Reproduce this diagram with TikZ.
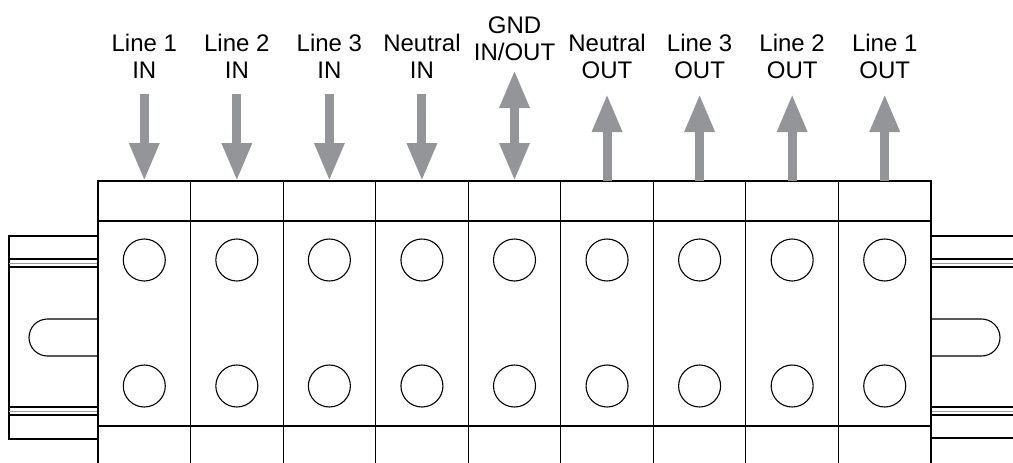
\documentclass[tikz,border=0pt]{standalone}
\usepackage{fontspec}
\setmainfont{Liberation Sans}
\usetikzlibrary{arrows.meta}
\definecolor{arrowgray}{HTML}{939598}
\definecolor{railgray}{HTML}{9A9A9A}

\begin{document}
\begin{tikzpicture}[x=1pt,y=-1pt,line width=1.1pt,
  lbl/.style={align=center,inner sep=0pt,font=\fontsize{24}{27}\selectfont},
  flow/.style={draw=arrowgray,line width=9pt,-{Triangle[width=28pt,length=38pt]}},
  both/.style={draw=arrowgray,line width=9pt,{Triangle[width=28pt,length=38pt]}-{Triangle[width=28pt,length=38pt]}},
  hole/.style={draw,circle,minimum size=42pt,inner sep=0pt}]
\useasboundingbox (0,0) rectangle (1013,463);
\draw (98,236) -- (9,236) -- (9,439) -- (98,439);
\draw (9,259) -- (98,259) (9,267) -- (98,267) (9,407) -- (98,407) (9,415) -- (98,415);
\draw[railgray,line width=0.8pt] (9,263) -- (98,263) (9,411) -- (98,411);
\draw (98,319) -- (47.5,319) arc[start angle=270,end angle=90,radius=18.5] -- (98,356);
\draw (1013,236) -- (931,236) (931,438) -- (1013,438);
\draw (931,259) -- (1013,259) (931,267) -- (1013,267) (931,407) -- (1013,407) (931,415) -- (1013,415);
\draw[railgray,line width=0.8pt] (931,263) -- (1013,263) (931,411) -- (1013,411);
\draw (931,319) -- (981.5,319) arc[start angle=-90,end angle=90,radius=18.5] -- (931,356);
\draw (98,463) -- (98,181) -- (931,181) -- (931,463);
\draw (98,221) -- (931,221) (98,426) -- (931,426);
\foreach \i/\txt in {1/{Line 1\\IN},2/{Line 2\\IN},3/{Line 3\\IN},4/{Neutral\\IN},5/{GND\\IN/OUT},6/{Neutral\\OUT},7/{Line 3\\OUT},8/{Line 2\\OUT},9/{Line 1\\OUT}}{
  \pgfmathsetmacro\cx{98+92.556*(\i-0.5)}
  \pgfmathsetmacro\ly{\i==5 ? 38.5 : 56.5}
  \node[lbl] (lab\i) at (\cx,\ly) {\txt};
  \coordinate (top\i) at (\cx,181);
  \coordinate (s\i) at (\cx,94);
  \node[hole] (hu\i) at (\cx,260) {};
  \node[hole] (hd\i) at (\cx,386) {};
  \ifnum\i<9 \draw (\cx+46.278,181) -- (\cx+46.278,463); \fi
}
\coordinate (s5) at (top5 |- 0,70);
\foreach \i in {1,...,4} \draw[flow] (s\i) -- (top\i);
\draw[both] (s5) -- (top5);
\foreach \i in {6,...,9} \draw[flow] (top\i) -- (s\i);
\end{tikzpicture}
\end{document}
